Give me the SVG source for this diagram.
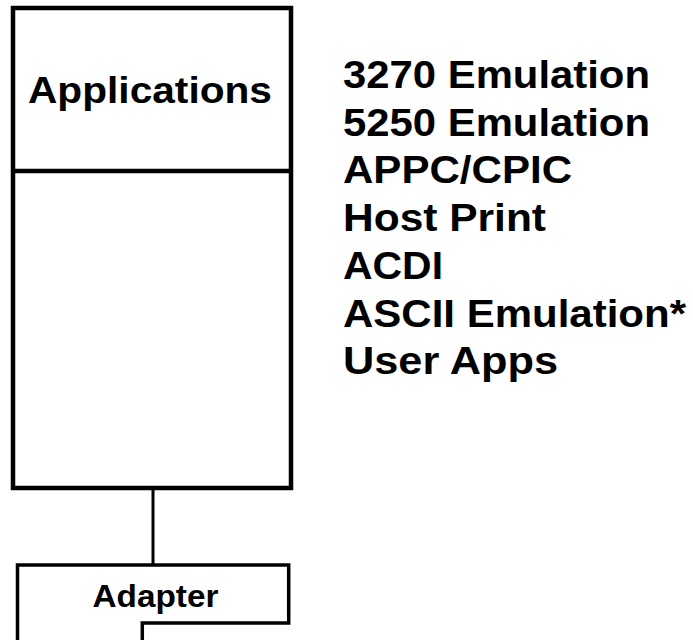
<svg xmlns="http://www.w3.org/2000/svg" width="693" height="640" viewBox="0 0 693 640">
<style>
.box{fill:none;stroke:#000;stroke-width:4.5}
.conn{fill:none;stroke:#000;stroke-width:3}
.t{font-family:"Liberation Sans",Arial,sans-serif;font-weight:bold;fill:#000}
.list{font-size:38px}
</style>
<rect width="693" height="640" fill="#fff"/>
<g id="applications">
<rect class="box" x="13" y="8" width="278" height="480"/>
<line class="box" x1="13" y1="171" x2="291" y2="171"/>
<text class="t" x="28" y="103" font-size="37" textLength="244" lengthAdjust="spacingAndGlyphs">Applications</text>
</g>
<g id="app-list" class="t list">
<text x="343" y="88" textLength="307" lengthAdjust="spacingAndGlyphs">3270 Emulation</text>
<text x="343" y="135.7" textLength="307" lengthAdjust="spacingAndGlyphs">5250 Emulation</text>
<text x="343" y="183.4" textLength="229" lengthAdjust="spacingAndGlyphs">APPC/CPIC</text>
<text x="343" y="231.1" textLength="203" lengthAdjust="spacingAndGlyphs">Host Print</text>
<text x="343" y="278.8" textLength="100" lengthAdjust="spacingAndGlyphs">ACDI</text>
<text x="343" y="326.5" textLength="343" lengthAdjust="spacingAndGlyphs">ASCII Emulation*</text>
<text x="343" y="374.2" textLength="215" lengthAdjust="spacingAndGlyphs">User Apps</text>
</g>
<g id="connectors">
<line class="conn" x1="153" y1="488" x2="153" y2="565"/>
</g>
<g id="adapter">
<path d="M17.5 640 V565 H288.7 V623 H142.3 V640" fill="none" stroke="#000" stroke-width="3.5"/>
<text class="t" x="92.5" y="606.7" font-size="31" textLength="126" lengthAdjust="spacingAndGlyphs">Adapter</text>
</g>
</svg>
